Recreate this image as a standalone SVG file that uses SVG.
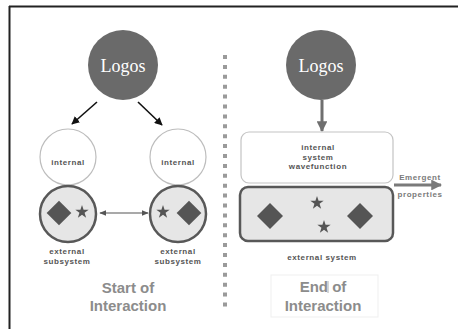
<svg xmlns="http://www.w3.org/2000/svg" width="458" height="329" viewBox="0 0 458 329">
  <style>
    .logos { fill: #6a6a6a; }
    .logos-text { font-family: "Liberation Serif", serif; font-size: 18px; fill: #ffffff; text-anchor: middle; }
    .internal { fill: #ffffff; stroke: #bdbdbd; stroke-width: 1.2; }
    .external { fill: #e6e6e6; stroke: #585858; stroke-width: 2.5; }
    .shape { fill: #555555; }
    .label { font-family: "Liberation Sans", Arial, sans-serif; font-weight: bold; font-size: 8px; letter-spacing: 0.6px; fill: #555555; text-anchor: middle; }
    .title { font-family: "Liberation Sans", Arial, sans-serif; font-weight: bold; font-size: 15px; fill: #8c8c8c; text-anchor: middle; }
  </style>
  <defs>
    <path id="star" d="M0,-7 L1.587,-2.184 L6.657,-2.163 L2.568,0.834 L4.114,5.663 L0,2.7 L-4.114,5.663 L-2.568,0.834 L-6.657,-2.163 L-1.587,-2.184Z"/>
    <path id="diamond" d="M0,-13 L13,0 L0,13 L-13,0Z"/>
    <marker id="headBlack" viewBox="0 0 10 10" refX="9" refY="5" markerWidth="5" markerHeight="5" orient="auto">
      <path d="M0,0 L10,5 L0,10Z" fill="#111111"/>
    </marker>
    <marker id="headSmall" viewBox="0 0 10 10" refX="9" refY="5" markerWidth="6" markerHeight="6" orient="auto-start-reverse">
      <path d="M0,1 L10,5 L0,9Z" fill="#555555"/>
    </marker>
    <marker id="headGray" viewBox="0 0 10 10" refX="9" refY="5" markerWidth="3.6" markerHeight="3.6" orient="auto">
      <path d="M0,0 L10,5 L0,10Z" fill="#6f6f6f"/>
    </marker>
    <marker id="headEmergent" viewBox="0 0 10 10" refX="9" refY="5" markerWidth="3.6" markerHeight="3.6" orient="auto">
      <path d="M0,0 L10,5 L0,10Z" fill="#7a7a7a"/>
    </marker>
  </defs>

  <rect width="458" height="329" fill="#ffffff"/>

  <!-- frame edges -->
  <g id="frame" stroke="#222222" stroke-width="2">
    <line x1="9" y1="6.5" x2="458" y2="6.5"/>
    <line x1="9.5" y1="6" x2="9.5" y2="329"/>
  </g>

  <!-- dotted separator -->
  <line id="separator" x1="225" y1="55" x2="225" y2="307" stroke="#9a9a9a" stroke-width="4" stroke-dasharray="4 5.9"/>

  <!-- connectors -->
  <g id="connectors">
    <line x1="97" y1="102" x2="72" y2="124" stroke="#111111" stroke-width="1.6" marker-end="url(#headBlack)"/>
    <line x1="138" y1="102" x2="162" y2="125" stroke="#111111" stroke-width="1.6" marker-end="url(#headBlack)"/>
    <line x1="100" y1="213" x2="148" y2="213" stroke="#555555" stroke-width="1.2" marker-start="url(#headSmall)" marker-end="url(#headSmall)"/>
    <line x1="322" y1="100" x2="322" y2="131" stroke="#6f6f6f" stroke-width="3" marker-end="url(#headGray)"/>
    <line x1="394" y1="185" x2="441" y2="185" stroke="#7a7a7a" stroke-width="3" marker-end="url(#headEmergent)"/>
  </g>

  <!-- start of interaction -->
  <g id="logos-start">
    <circle class="logos" cx="123" cy="65" r="35"/>
    <text class="logos-text" x="123" y="72">Logos</text>
  </g>

  <g id="internal-left">
    <circle class="internal" cx="68" cy="157" r="28"/>
    <text class="label" x="68" y="165">internal</text>
  </g>
  <g id="internal-right">
    <circle class="internal" cx="178" cy="157" r="28"/>
    <text class="label" x="178" y="165">internal</text>
  </g>

  <g id="external-left">
    <circle class="external" cx="68" cy="214" r="28"/>
    <use href="#diamond" class="shape" transform="translate(59,213) scale(0.95)"/>
    <use href="#star" class="shape" transform="translate(82,212)"/>
    <text class="label" x="67" y="254">external</text>
    <text class="label" x="67" y="263.5">subsystem</text>
  </g>
  <g id="external-right">
    <circle class="external" cx="178" cy="214" r="28"/>
    <use href="#star" class="shape" transform="translate(163,212)"/>
    <use href="#diamond" class="shape" transform="translate(189,213) scale(0.95)"/>
    <text class="label" x="178" y="254">external</text>
    <text class="label" x="178" y="263.5">subsystem</text>
  </g>

  <g id="title-start">
    <text class="title" x="128" y="293">Start of</text>
    <text class="title" x="128" y="311">Interaction</text>
  </g>

  <!-- end of interaction -->
  <g id="logos-end">
    <circle class="logos" cx="321" cy="65" r="35"/>
    <text class="logos-text" x="321" y="72">Logos</text>
  </g>

  <g id="wavefunction">
    <rect x="241" y="132" width="152" height="51" rx="8" fill="#ffffff" stroke="#c4c4c4" stroke-width="1.2"/>
    <text class="label" x="318" y="150">internal</text>
    <text class="label" x="318" y="159.5">system</text>
    <text class="label" x="318" y="169">wavefunction</text>
  </g>

  <g id="external-system">
    <rect x="240" y="187" width="153" height="54" rx="8" fill="#e6e6e6" stroke="#585858" stroke-width="2.5"/>
    <use href="#diamond" class="shape" transform="translate(270,216)"/>
    <use href="#diamond" class="shape" transform="translate(360,216)"/>
    <use href="#star" class="shape" transform="translate(317,203)"/>
    <use href="#star" class="shape" transform="translate(324,227)"/>
    <text class="label" x="322" y="260">external system</text>
  </g>

  <g id="emergent">
    <text class="label" x="420" y="180" style="fill:#7a7a7a">Emergent</text>
    <text class="label" x="420" y="197" style="fill:#7a7a7a">properties</text>
  </g>

  <g id="title-end">
    <rect x="271" y="275" width="107" height="42" fill="none" stroke="#efefef" stroke-width="1"/>
    <text class="title" x="323" y="292">End of</text>
    <line x1="328" y1="281" x2="328" y2="293" stroke="#9a9a9a" stroke-width="0.8"/>
    <text class="title" x="323" y="311">Interaction</text>
  </g>
</svg>
